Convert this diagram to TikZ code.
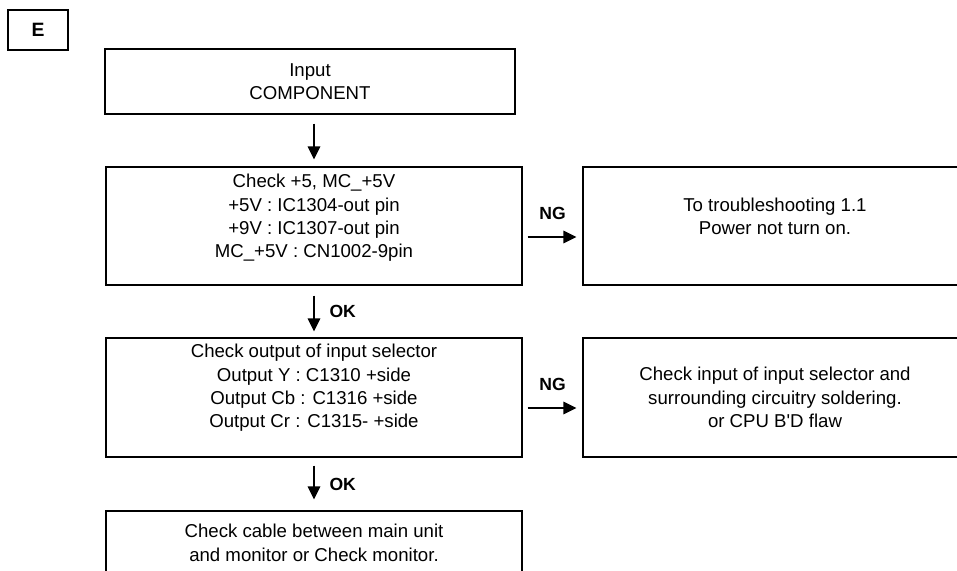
\documentclass[tikz,border=0pt]{standalone}
\usepackage{fontspec}
\setmainfont{Liberation Sans}[Ligatures=TeXOff]
\usetikzlibrary{arrows.meta}

\begin{document}
\begin{tikzpicture}[x=0.02cm, y=-0.02cm,
  box/.style={draw, line width=0.7pt, align=center, inner sep=0pt,
    font=\fontsize{10.6}{13.3}\selectfont},
  flow/.style={line width=0.9pt, -{Triangle[length=0.26cm, width=0.25cm]}},
  tag/.style={font=\bfseries\fontsize{10}{12}\selectfont, inner sep=1pt}]

  % page frame (right and bottom boxes run off the page)
  \useasboundingbox (0,0) rectangle (957,571);
  \clip (0,0) rectangle (957,571);

  % sheet letter
  \node[box, minimum width=1.2cm, minimum height=0.8cm,
        font=\bfseries\fontsize{11}{12}\selectfont] (sheet) at (38,30) {E};

  % left column
  \node[box, minimum width=8.2cm, minimum height=1.3cm] (input) at (310,81.5)
      {Input\\COMPONENT};
  \node[box, minimum width=8.32cm, minimum height=2.36cm, text depth=0.4cm]
      (check5) at (314,226)
      {Check +5, MC\_+5V\\+5V : IC1304-out pin\\+9V : IC1307-out pin\\MC\_+5V : CN1002-9pin};
  \node[box, minimum width=8.32cm, minimum height=2.38cm, text depth=0.46cm]
      (selector) at (314,397.5)
      {Check output of input selector\\Output Y : C1310 +side\\Output Cb : C1316 +side\\Output Cr : C1315- +side};
  \node[box, minimum width=8.32cm, minimum height=1.28cm] (cable) at (314,543)
      {Check cable between main unit\\and monitor or Check monitor.};

  % right column
  \node[box, minimum width=7.68cm, minimum height=2.36cm, text depth=0.4cm]
      (power) at (775,226) {To troubleshooting 1.1\\Power not turn on.};
  \node[box, minimum width=7.68cm, minimum height=2.38cm] (solder) at (775,397.5)
      {Check input of input selector and\\surrounding circuitry soldering.\\or CPU B'D flaw};

  % OK arrows
  \draw[flow, shorten <=0.18cm, shorten >=0.14cm] (input.south -| check5.north) -- (check5.north);
  \draw[flow, shorten <=0.2cm, shorten >=0.12cm] (check5.south) -- (selector.north)
      node[midway, right=0.26cm, tag] (ok1) {OK};
  \draw[flow, shorten <=0.16cm, shorten >=0.22cm] (selector.south) -- (cable.north)
      node[midway, right=0.26cm, tag] (ok2) {OK};

  % NG arrows
  \draw[flow, shorten <=0.1cm, shorten >=0.12cm] ([yshift=-0.22cm]check5.east) -- ([yshift=-0.22cm]power.west)
      node[midway, above=0.3cm, tag] (ng1) {NG};
  \draw[flow, shorten <=0.1cm, shorten >=0.12cm] ([yshift=-0.21cm]selector.east) -- ([yshift=-0.21cm]solder.west)
      node[midway, above=0.3cm, tag] (ng2) {NG};

\end{tikzpicture}
\end{document}
